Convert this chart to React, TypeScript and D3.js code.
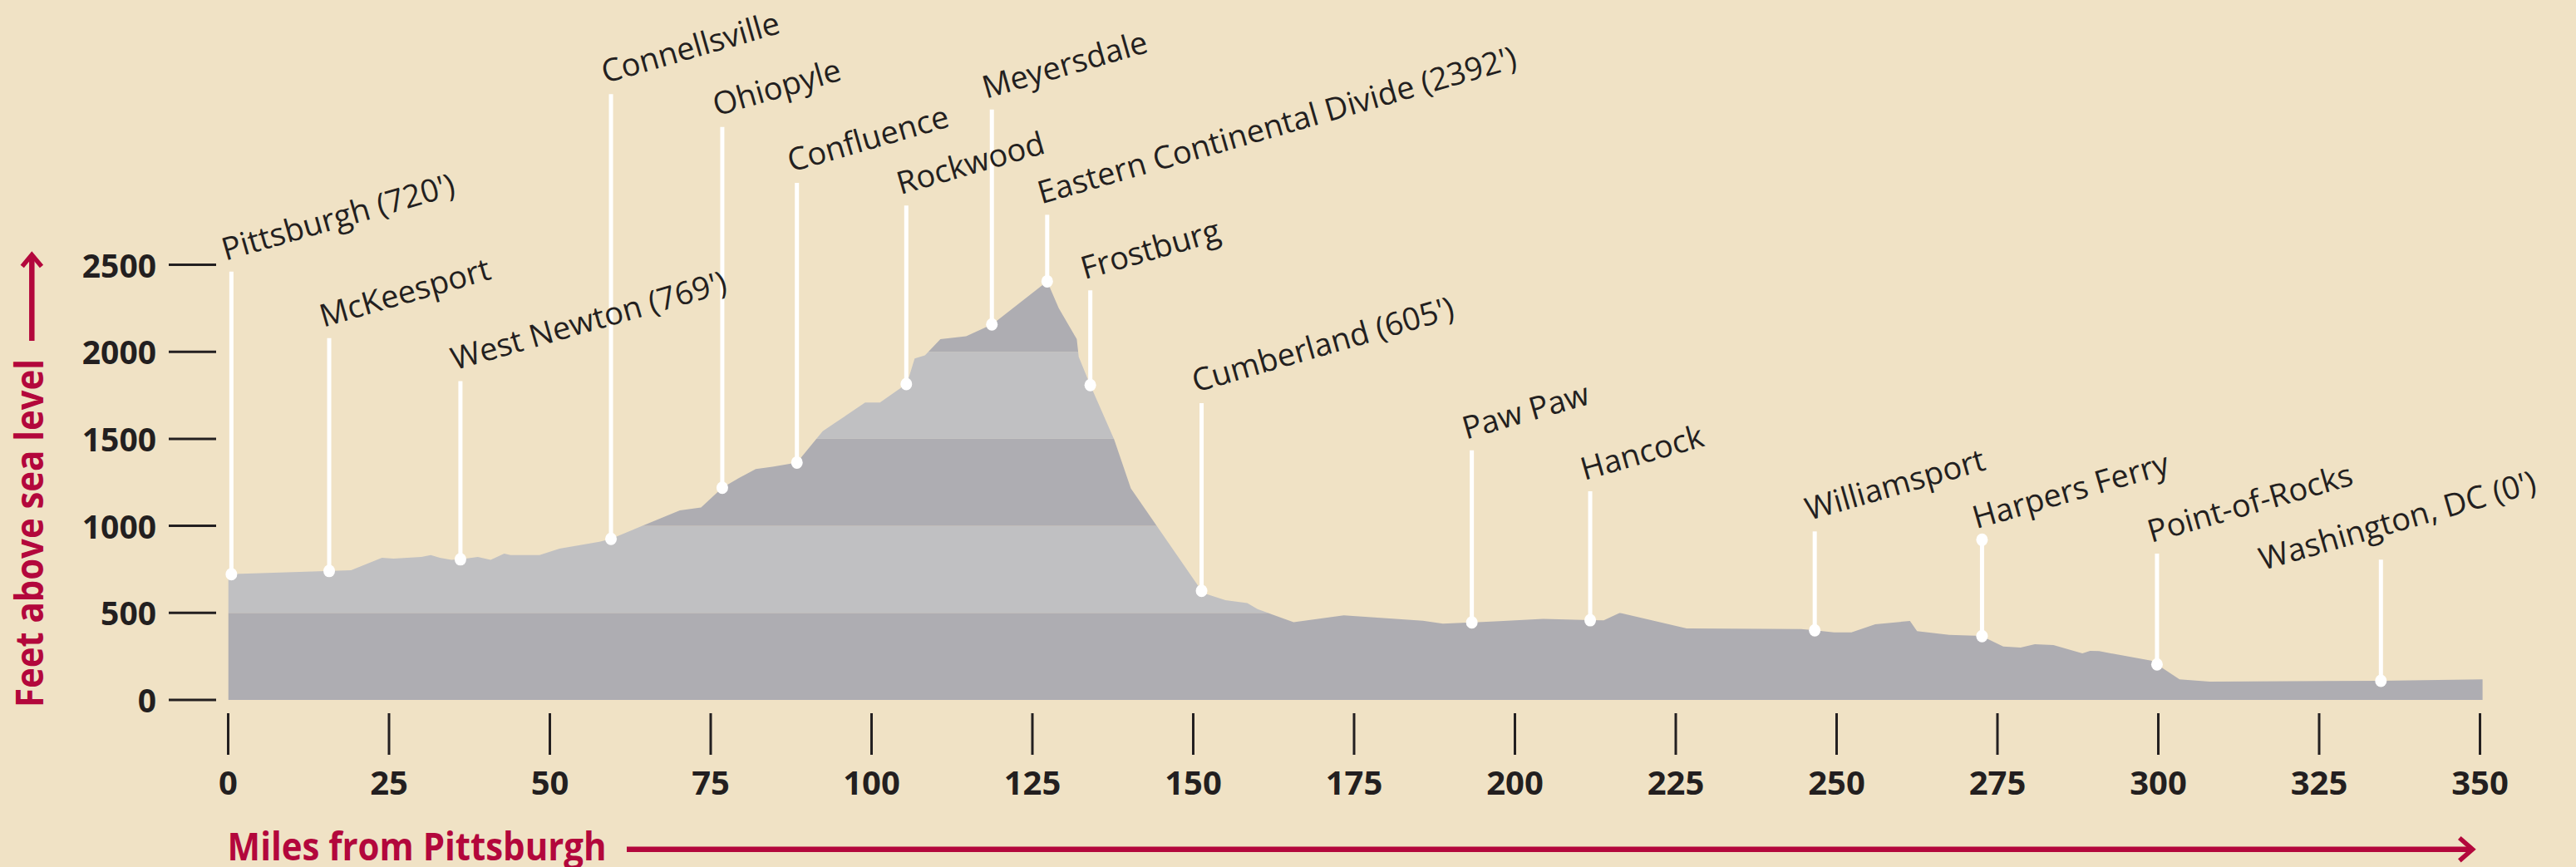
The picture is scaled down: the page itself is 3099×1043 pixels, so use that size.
import React from 'react';
import * as d3 from 'd3';

// elevation profile (miles from Pittsburgh, feet)
const profileMiles = [
  0, 19.1, 23.9, 25.7, 30, 31.5, 32.9, 34.7, 36.2, 38.8, 40.8, 42.9, 43.9, 48.4, 51.5, 57.7, 59.5,
  63.3, 70.2, 73.5, 76.8, 79.4, 82, 84.6, 88.4, 92.4, 99, 101.3, 105.5, 106.7, 108.3, 110.7, 114.7,
  118.8, 127.3, 129.1, 131.9, 132.2, 133.9, 137.7, 140.3, 151.3, 151.8, 155, 158.4, 160, 162.2,
  165.6, 173.4, 185.7, 188.8, 193.2, 197.6, 204.4, 211.6, 213.8, 216.3, 226.7, 244.5, 246.6, 249.6,
  252.3, 256, 261.4, 262.5, 267.5, 272.5, 275.9, 278.6, 280.8, 283.7, 288.2, 289.4, 290.8, 298.9,
  303.3, 308, 334.4, 350.4,
];
const profileFeet = [
  722, 745, 817, 812, 821, 832, 817, 805, 808, 821, 805, 840, 832, 832, 869, 909, 925,
  984, 1089, 1105, 1219, 1275, 1326, 1340, 1364, 1544, 1708, 1708, 1817, 1961, 1979, 2073, 2089,
  2159, 2405, 2251, 2073, 1971, 1817, 1497, 1215, 627, 611, 573, 556, 522, 492,
  447, 486, 455, 438, 445, 452, 466, 458, 457, 500, 411, 407, 400, 388,
  388, 434, 454, 395, 374, 368, 307, 301, 320, 315, 267, 282, 280, 226,
  118, 105, 110, 118,
];

const stationNames = [
  "Pittsburgh (720')", 'McKeesport', "West Newton (769')", 'Connellsville', 'Ohiopyle',
  'Confluence', 'Rockwood', 'Meyersdale', "Eastern Continental Divide (2392')", 'Frostburg',
  "Cumberland (605')", 'Paw Paw', 'Hancock', 'Williamsport', 'Harpers Ferry', 'Point-of-Rocks',
  "Washington, DC (0')",
];
const stationMiles = [0.5, 15.7, 36.1, 59.5, 76.8, 88.4, 105.4, 118.7, 127.3, 134, 151.3, 193.3, 211.7, 246.6, 272.6, 299.8, 334.6];
// height (in feet on the chart scale) where each white leader line ends
const leaderTopFeet = [2461, 2079, 1831, 3480, 3292, 2970, 2840, 3392, 2787, 2353, 1705, 1434, 1199, 968, 920, 840, 806];

const xTickValues = [0, 25, 50, 75, 100, 125, 150, 175, 200, 225, 250, 275, 300, 325, 350];
const yTickValues = [0, 500, 1000, 1500, 2000, 2500];

const W = 3099;
const H = 1043;
const BG = '#f0e2c5';
const RED = '#b3073c';
const INK = '#231f20';
const DARK = '#aeadb2';
const LIGHT = '#c0c0c2';
const FONT = "'Open Sans', 'Noto Sans', sans-serif";

export default function App() {
  const x = d3.scaleLinear().domain([0, 350]).range([274.5, 2983.5]);
  const y = d3.scaleLinear().domain([0, 2500]).range([842, 318.5]);

  const profile = profileMiles.map((m, i) => ({ m, ft: profileFeet[i] }));
  const area = d3.area<{ m: number; ft: number }>()
    .x(d => x(d.m))
    .y0(y(0))
    .y1(d => y(d.ft));

  const bis = d3.bisector((d: { m: number }) => d.m).left;
  const elevAt = (m: number) => {
    const i = Math.max(1, Math.min(profile.length - 1, bis(profile, m)));
    const a = profile[i - 1], b = profile[i];
    return a.ft + (b.ft - a.ft) * ((m - a.m) / (b.m - a.m));
  };

  const bands = yTickValues.map((v, i) => ({
    lo: v,
    hi: i === yTickValues.length - 1 ? 3000 : yTickValues[i + 1],
    dark: i % 2 === 0,
  }));

  const stations = stationNames.map((name, i) => {
    const sx = x(stationMiles[i]);
    const top = y(leaderTopFeet[i]);
    const isDC = name.startsWith('Washington');
    return {
      name,
      sx,
      sy: y(elevAt(stationMiles[i])),
      top,
      lx: sx + (isDC ? -142 : -7),
      ly: top + (isDC ? 13 : -13),
    };
  });

  return (
    <svg width={W} height={H} style={{ position: 'absolute', left: 0, top: 0 }} fontFamily={FONT}>
      <rect width={W} height={H} fill={BG} />
      <defs>
        <clipPath id="profile">
          <path d={area(profile) || ''} />
        </clipPath>
      </defs>

      <g clipPath="url(#profile)">
        {bands.map(b => (
          <rect key={b.lo} x={x(0)} width={x(350.5) - x(0)} y={y(b.hi)} height={y(b.lo) - y(b.hi)}
            fill={b.dark ? DARK : LIGHT} />
        ))}
      </g>

      {/* y axis */}
      {yTickValues.map(v => (
        <g key={v}>
          <line x1={203} x2={260} y1={y(v)} y2={y(v)} stroke={INK} strokeWidth={3} />
          <text x={188} y={y(v) + 15} textAnchor="end" fontSize={39} fontWeight={700} fill={INK}>{v}</text>
        </g>
      ))}

      {/* x axis */}
      {xTickValues.map(v => (
        <g key={v}>
          <line x1={x(v)} x2={x(v)} y1={858} y2={908} stroke={INK} strokeWidth={3} />
          <text x={x(v)} y={956} textAnchor="middle" fontSize={40} fontWeight={700} fill={INK}>{v}</text>
        </g>
      ))}

      {/* station leaders */}
      {stations.map(s => (
        <g key={s.name}>
          <line x1={s.sx} x2={s.sx} y1={s.top} y2={s.sy} stroke="#fff" strokeWidth={5} />
          <ellipse cx={s.sx} cy={s.sy} rx={7} ry={7.5} fill="#fff" />
          {s.name === 'Harpers Ferry' && <ellipse cx={s.sx} cy={s.top} rx={7} ry={7.5} fill="#fff" />}
        </g>
      ))}
      {stations.map(s => (
        <text key={s.name} transform={`translate(${s.lx},${s.ly}) rotate(-16)`} fontSize={38} fill={INK}>{s.name}</text>
      ))}

      {/* axis titles */}
      <text transform="translate(52,851) rotate(-90)" fontSize={46} fontWeight={700} fill={RED}
        textLength={419} lengthAdjust="spacingAndGlyphs">Feet above sea level</text>
      <line x1={38.3} x2={38.3} y1={410} y2={308} stroke={RED} strokeWidth={6.5} />
      <polyline points="26.7,320.5 38.3,306.5 50,320.5" fill="none" stroke={RED} strokeWidth={5.5} />

      <text x={273.6} y={1035} fontSize={46} fontWeight={700} fill={RED}
        textLength={456} lengthAdjust="spacingAndGlyphs">Miles from Pittsburgh</text>
      <line x1={754} x2={2973} y1={1021.7} y2={1021.7} stroke={RED} strokeWidth={6.5} />
      <polyline points="2958.8,1008 2974.5,1021.7 2958.8,1035.4" fill="none" stroke={RED} strokeWidth={5.5} />
    </svg>
  );
}
